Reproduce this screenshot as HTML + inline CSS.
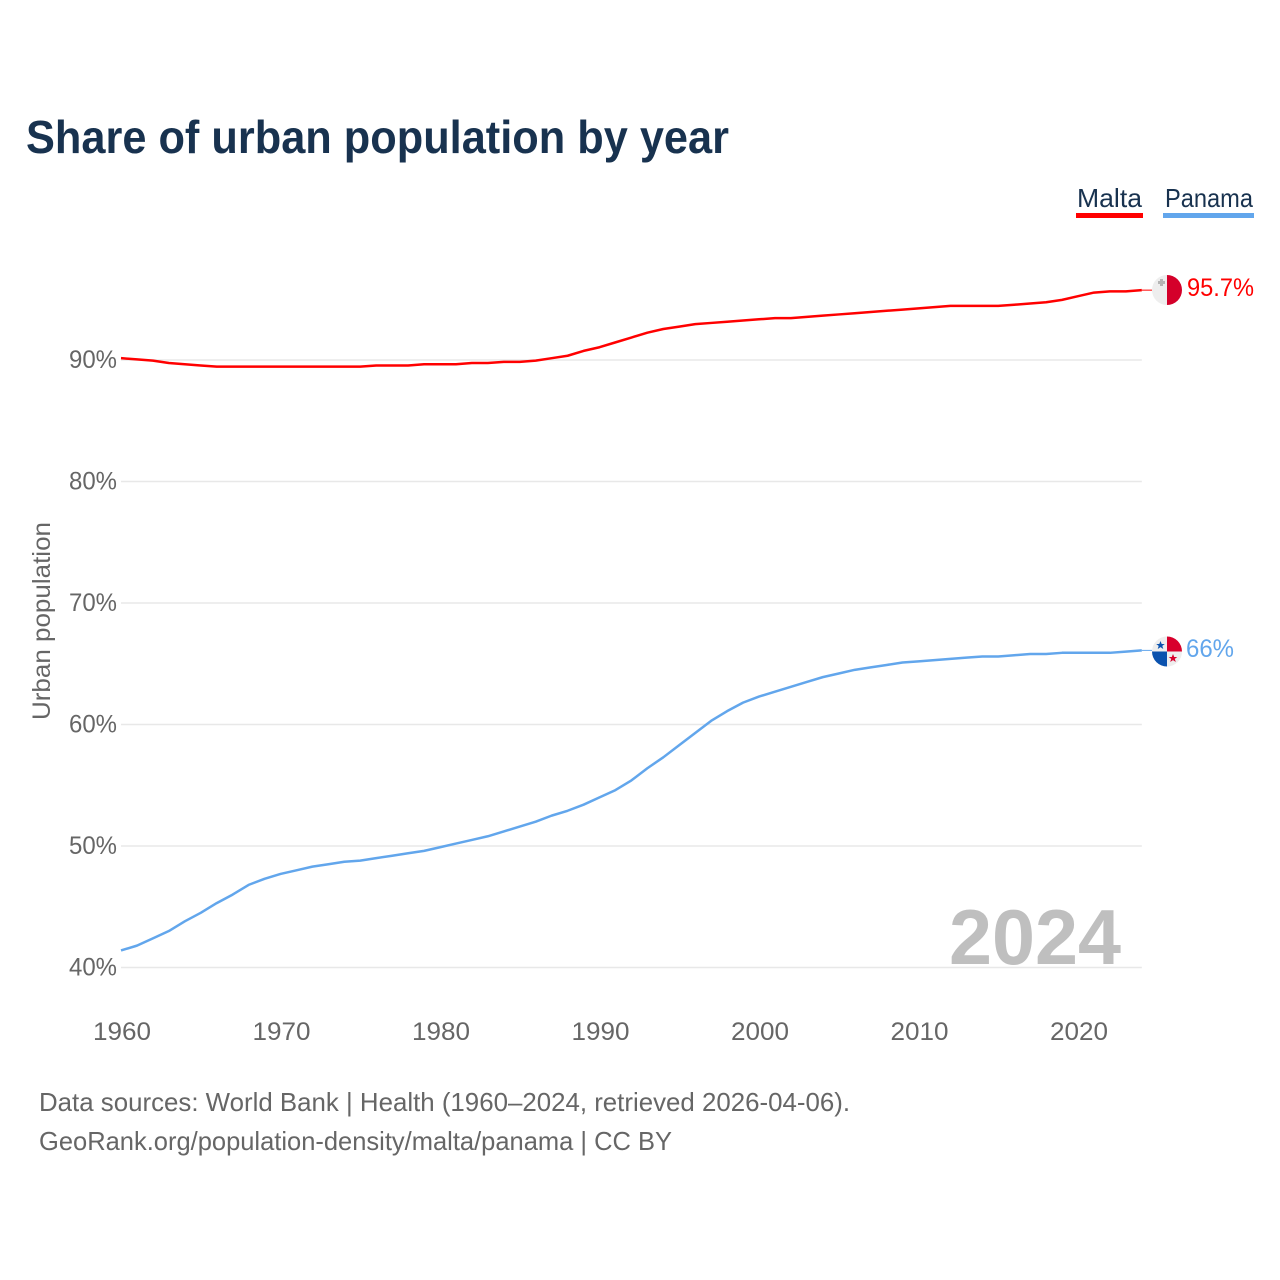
<!DOCTYPE html>
<html lang="en">
<head>
<meta charset="utf-8">
<title>Share of urban population by year</title>
<style>
html,body{margin:0;padding:0;background:#fff;width:1280px;height:1280px;overflow:hidden}
svg{display:block}
text{font-family:"Liberation Sans",sans-serif}
</style>
</head>
<body>
<svg id="chart" width="1280" height="1280" viewBox="0 0 1280 1280" xmlns="http://www.w3.org/2000/svg">
  <rect x="0" y="0" width="1280" height="1280" fill="#fff"/>
  <text x="26" y="153" font-size="46" font-weight="700" fill="#18324f" textLength="703" lengthAdjust="spacingAndGlyphs">Share of urban population by year</text>

  <g id="grid"></g>
  <g id="yticks"></g>
  <g id="xticks"></g>

  <text transform="translate(50,621) rotate(-90)" text-anchor="middle" font-size="25" fill="#666" textLength="198" lengthAdjust="spacingAndGlyphs">Urban population</text>

  <text x="949" y="964" font-size="78" font-weight="700" fill="#bfbfbf" textLength="172" lengthAdjust="spacingAndGlyphs">2024</text>

  <g id="series"></g>

  <g>
    <text x="1077" y="207" font-size="26" fill="#18324f" textLength="65" lengthAdjust="spacingAndGlyphs">Malta</text>
    <rect x="1076" y="213" width="67" height="5" fill="#ff0000"/>
  </g>
  <g>
    <text x="1165" y="207" font-size="26" fill="#18324f" textLength="88" lengthAdjust="spacingAndGlyphs">Panama</text>
    <rect x="1163" y="213" width="91" height="5" fill="#62a6ec"/>
  </g>

  <g id="flag-malta">
    <clipPath id="clip-malta"><circle cx="1167" cy="290" r="15"/></clipPath>
    <g clip-path="url(#clip-malta)">
      <rect x="1152" y="275" width="15" height="30" fill="#eeeeee"/>
      <rect x="1167" y="275" width="15" height="30" fill="#d4002a"/>
      <path d="M1160 279h3v2h2v3h-2v2h-3v-2h-2v-3h2z" fill="#b5b5b5"/>
    </g>
  </g>
  <g id="flag-panama">
    <clipPath id="clip-panama"><circle cx="1167" cy="651.5" r="15"/></clipPath>
    <g clip-path="url(#clip-panama)">
      <rect x="1152" y="636.5" width="15" height="15" fill="#eeeeee"/>
      <rect x="1167" y="636.5" width="15" height="15" fill="#d8002c"/>
      <rect x="1152" y="651.5" width="15" height="15" fill="#0a52ae"/>
      <rect x="1167" y="651.5" width="15" height="15" fill="#eeeeee"/>
      <path d="M1160.5 641l1.2 3h3.1l-2.5 1.9 1 3.1-2.8-1.9-2.8 1.9 1-3.1-2.5-1.9h3.100z" fill="#0a52ae"/>
      <path d="M1173 654l1.200 3h3.100l-2.500 1.900 1 3.100-2.800-1.900-2.800 1.900 1-3.100-2.500-1.900h3.100z" fill="#d8002c"/>
    </g>
  </g>

  <text id="value-malta" x="1187" y="296" font-size="25" fill="#ff0000" textLength="67" lengthAdjust="spacingAndGlyphs"></text>
  <text id="value-panama" x="1186" y="657" font-size="25" fill="#62a6ec" textLength="48" lengthAdjust="spacingAndGlyphs"></text>

  <text x="39" y="1111" font-size="26" fill="#666" textLength="811" lengthAdjust="spacingAndGlyphs">Data sources: World Bank | Health (1960–2024, retrieved 2026-04-06).</text>
  <text x="39" y="1150" font-size="26" fill="#666" textLength="633" lengthAdjust="spacingAndGlyphs">GeoRank.org/population-density/malta/panama | CC BY</text>
</svg>
<script>
const yTickValues = [40, 50, 60, 70, 80, 90];
const xTickValues = [1960, 1970, 1980, 1990, 2000, 2010, 2020];
const firstYear = 1960;
const maltaValues = [
  90.15, 90.05, 89.95, 89.75, 89.65, 89.55, 89.45, 89.45, 89.45, 89.45,
  89.45, 89.45, 89.45, 89.45, 89.45, 89.45, 89.55, 89.55, 89.55, 89.65,
  89.65, 89.65, 89.75, 89.75, 89.85, 89.85, 89.95, 90.15, 90.35, 90.75,
  91.05, 91.45, 91.85, 92.25, 92.55, 92.75, 92.95, 93.05, 93.15, 93.25,
  93.35, 93.45, 93.45, 93.55, 93.65, 93.75, 93.85, 93.95, 94.05, 94.15,
  94.25, 94.35, 94.45, 94.45, 94.45, 94.45, 94.55, 94.65, 94.75, 94.95,
  95.25, 95.55, 95.65, 95.65, 95.75
];
const panamaValues = [
  41.4, 41.8, 42.4, 43.0, 43.8, 44.5, 45.3, 46.0, 46.8, 47.3,
  47.7, 48.0, 48.3, 48.5, 48.7, 48.8, 49.0, 49.2, 49.4, 49.6,
  49.9, 50.2, 50.5, 50.8, 51.2, 51.6, 52.0, 52.5, 52.9, 53.4,
  54.0, 54.6, 55.4, 56.4, 57.3, 58.3, 59.3, 60.3, 61.1, 61.8,
  62.3, 62.7, 63.1, 63.5, 63.9, 64.2, 64.5, 64.7, 64.9, 65.1,
  65.2, 65.3, 65.4, 65.5, 65.6, 65.6, 65.7, 65.8, 65.8, 65.9,
  65.9, 65.9, 65.9, 66.0, 66.1
];
const maltaLabel = "95.7%";
const panamaLabel = "66%";

const NS = "http://www.w3.org/2000/svg";
const xScale = function (year) { return 121 + (year - 1960) * 15.95; };
const yScale = function (v) { return 967.5 - (v - 40) * 12.15; };

const grid = document.getElementById("grid");
const yticks = document.getElementById("yticks");
yTickValues.forEach(function (v) {
  const line = document.createElementNS(NS, "line");
  
  
  line.setAttribute("x1", xScale(1960));
  line.setAttribute("x2", xScale(2024));
  line.setAttribute("y1", yScale(v));
  line.setAttribute("y2", yScale(v));
  line.setAttribute("stroke", "#e8e8e8");
  line.setAttribute("stroke-width", "1.5");
  grid.appendChild(line);

  const t = document.createElementNS(NS, "text");
  
  
  t.setAttribute("x", 117);
  t.setAttribute("y", yScale(v) + 8);
  t.setAttribute("text-anchor", "end");
  t.setAttribute("font-size", "25");
  t.setAttribute("fill", "#666");
  t.setAttribute("textLength", "48");
  t.setAttribute("lengthAdjust", "spacingAndGlyphs");
  t.textContent = v + "%";
  yticks.appendChild(t);
});

const xticks = document.getElementById("xticks");
xTickValues.forEach(function (year) {
  const t = document.createElementNS(NS, "text");
  
  
  t.setAttribute("x", xScale(year) + 1);
  t.setAttribute("y", 1040);
  t.setAttribute("text-anchor", "middle");
  t.setAttribute("font-size", "25");
  t.setAttribute("fill", "#666");
  t.setAttribute("textLength", "58");
  t.setAttribute("lengthAdjust", "spacingAndGlyphs");
  t.textContent = year;
  xticks.appendChild(t);
});

function linePoints(values) {
  return values.map(function (v, i) {
    return xScale(firstYear + i).toFixed(2) + "," + yScale(v).toFixed(2);
  }).join(" ");
}

const seriesGroup = document.getElementById("series");

const maltaLine = document.createElementNS(NS, "polyline");


maltaLine.setAttribute("points", linePoints(maltaValues));
maltaLine.setAttribute("fill", "none");
maltaLine.setAttribute("stroke", "#ff0000");
maltaLine.setAttribute("stroke-width", "2.5");
maltaLine.setAttribute("stroke-linejoin", "round");
seriesGroup.appendChild(maltaLine);

const panamaLine = document.createElementNS(NS, "polyline");


panamaLine.setAttribute("points", linePoints(panamaValues));
panamaLine.setAttribute("fill", "none");
panamaLine.setAttribute("stroke", "#62a6ec");
panamaLine.setAttribute("stroke-width", "2.5");
panamaLine.setAttribute("stroke-linejoin", "round");
seriesGroup.appendChild(panamaLine);

const maltaLead = document.createElementNS(NS, "line");


maltaLead.setAttribute("x1", xScale(2024));
maltaLead.setAttribute("x2", 1152);
maltaLead.setAttribute("y1", yScale(maltaValues[maltaValues.length - 1]));
maltaLead.setAttribute("y2", yScale(maltaValues[maltaValues.length - 1]));
maltaLead.setAttribute("stroke", "#ff0000");
maltaLead.setAttribute("stroke-width", "1");
seriesGroup.appendChild(maltaLead);

const panamaLead = document.createElementNS(NS, "line");


panamaLead.setAttribute("x1", xScale(2024));
panamaLead.setAttribute("x2", 1152);
panamaLead.setAttribute("y1", yScale(panamaValues[panamaValues.length - 1]));
panamaLead.setAttribute("y2", yScale(panamaValues[panamaValues.length - 1]));
panamaLead.setAttribute("stroke", "#62a6ec");
panamaLead.setAttribute("stroke-width", "1");
seriesGroup.appendChild(panamaLead);

document.getElementById("value-malta").textContent = maltaLabel;
document.getElementById("value-panama").textContent = panamaLabel;
</script>
</body>
</html>
